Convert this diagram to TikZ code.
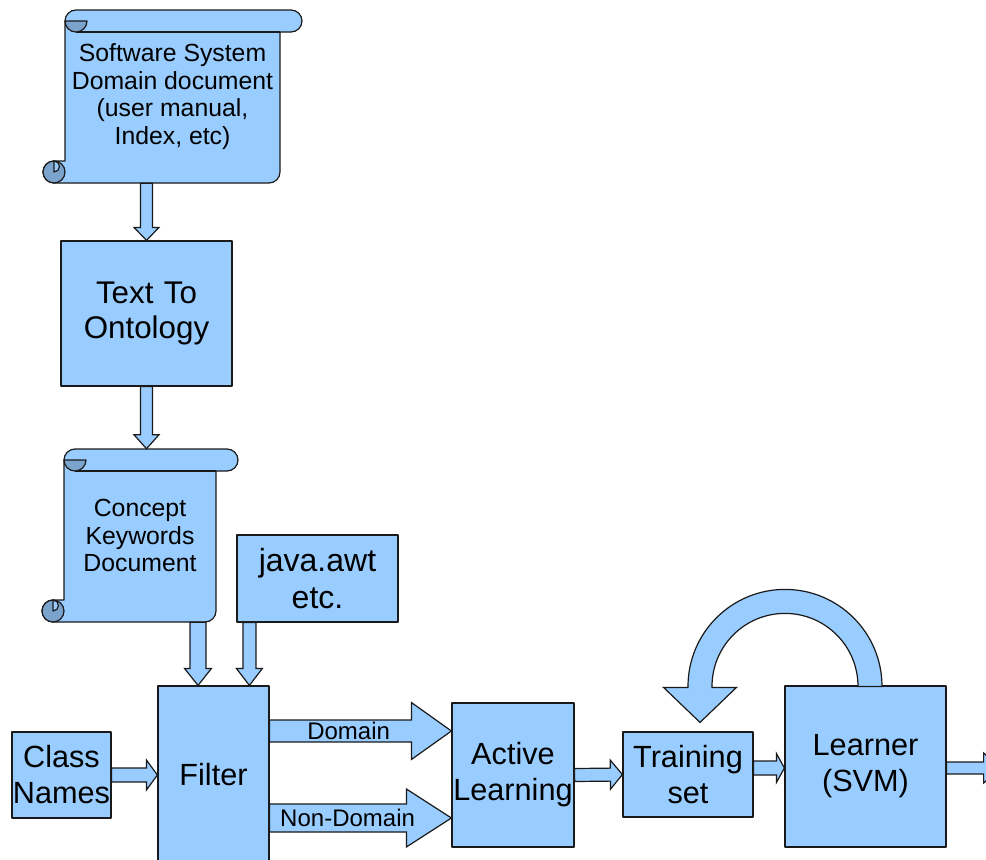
\documentclass[tikz,border=0pt]{standalone}
\usepackage{fontspec}
\setmainfont{Liberation Sans}
\usetikzlibrary{calc}
\definecolor{boxblue}{HTML}{99CCFF}
\definecolor{curlblue}{HTML}{7BA3CC}
\definecolor{edge}{HTML}{1A1A1A}

% scroll outline: left, top, right, bottom, roll thickness (px)
\newcommand{\scrollshape}[5]{%
 \pgfmathsetmacro\scL{#1}\pgfmathsetmacro\scT{#2}\pgfmathsetmacro\scR{#3}%
 \pgfmathsetmacro\scB{#4}\pgfmathsetmacro\scC{#5}\pgfmathsetmacro\scH{#5/2}%
 \draw[outline, fill=boxblue] ({\scL+\scC},{\scB-\scC}) -- ({\scL+\scC},{\scT+\scH})
   arc[start angle=180,end angle=270,radius=\scH] -- ({\scR-\scH},\scT)
   arc[start angle=270,end angle=450,radius=\scH] -- ({\scR-\scC},{\scT+\scC})
   -- ({\scR-\scC},{\scB-\scH}) arc[start angle=0,end angle=90,radius=\scH]
   -- ({\scL+\scH},\scB) arc[start angle=90,end angle=270,radius=\scH] -- cycle;
 \draw[outline] ({\scL+\scC+\scH},{\scT+\scC}) -- ({\scR-\scC},{\scT+\scC});
 \draw[outline, fill=curlblue] ({\scL+\scC},{\scT+\scH}) arc[start angle=180,end angle=0,radius=\scH] -- cycle;
 \draw[outline, fill=curlblue] ({\scL+\scH},{\scB-\scH}) circle[radius=\scH];
 \draw[outline, fill=boxblue] ({\scL+\scH},{\scB-\scC}) arc[start angle=270,end angle=450,radius={\scH/2}] -- cycle;
}

% block arrow: from, to, shaft half width, head half width, head length (px)
\newcommand{\blockarrow}[5]{%
  \path let \p1=(#1), \p2=(#2) in \pgfextra{%
    \pgfmathsetmacro\baang{atan2(\y2-\y1,\x2-\x1)}%
    \pgfmathsetmacro\balen{veclen(\x2-\x1,\y2-\y1)}%
    \global\let\baAng\baang \global\let\baLen\balen};
  \begin{scope}[shift={(#1)}, rotate=\baAng]
    \draw[barrow] (0pt,{-0.75pt*#3}) -- ({\baLen*1pt-0.75pt*#5},{-0.75pt*#3})
      -- ({\baLen*1pt-0.75pt*#5},{-0.75pt*#4}) -- ({\baLen*1pt},0pt)
      -- ({\baLen*1pt-0.75pt*#5},{0.75pt*#4}) -- ({\baLen*1pt-0.75pt*#5},{0.75pt*#3})
      -- (0pt,{0.75pt*#3}) -- cycle;
  \end{scope}}

\begin{document}
\begin{tikzpicture}[x=0.75pt,y=-0.75pt,
  outline/.style={draw=edge, line width=0.9pt, line join=round},
  box/.style={outline, fill=boxblue, rectangle, inner sep=0pt, align=center, text=black,
    font=\fontsize{23}{27}\selectfont},
  barrow/.style={draw=edge, fill=boxblue, line width=0.9pt, line join=miter},
  doctext/.style={inner sep=0pt, align=center, text=black, font=\fontsize{18.6}{20.7}\selectfont},
  lbl/.style={inner sep=0pt, text=black, font=\fontsize{18}{20}\selectfont},
]
\useasboundingbox (0,0) rectangle (986,860);
\clip (0,0) rectangle (986,860);

% scroll documents
\scrollshape{43}{10}{302}{183}{22}
\node[doctext, minimum width=194.25pt, minimum height=129.75pt] (doc1) at (172.5,96.5)
  {Software System\\Domain document\\(user manual,\\Index, etc)};
\scrollshape{42}{449}{238}{622}{22}
\node[doctext, minimum width=147pt, minimum height=129.75pt] (doc2) at (140,535.5)
  {Concept\\Keywords\\Document};

% boxes
\node[box, minimum width=128.25pt, text width=128.25pt, minimum height=108.75pt,
  font=\fontsize{23.5}{26.3}\selectfont] (tto) at (146.5,313.5) {Text To\\Ontology};
\node[box, minimum width=120.75pt, text width=120.75pt, minimum height=65.25pt,
  font=\fontsize{24}{27.75}\selectfont] (java) at (317.5,578.5) {java.awt\\etc.};
\node[box, minimum width=74.25pt, text width=74.25pt, minimum height=64.5pt] (class) at (61.5,775) {Class\\Names};
\node[box, minimum width=83.25pt, text width=83.25pt, minimum height=133.5pt] (filter) at (213.5,775) {Filter};
\node[box, minimum width=91.5pt, text width=91.5pt, minimum height=108pt] (al) at (513,775) {Active\\Learning};
\node[box, minimum width=97.5pt, text width=97.5pt, minimum height=63.75pt] (ts) at (688,774.5) {Training\\set};
\node[box, minimum width=120.75pt, text width=120.75pt, minimum height=120.75pt] (learner) at (865.5,766.5) {Learner\\(SVM)};

% connectors
\blockarrow{doc1.south -| tto.north}{tto.north}{6}{12.5}{13}
\blockarrow{tto.south}{tto.south |- doc2.north}{6}{12.5}{14}
\coordinate (c1) at ($(doc2.south)+(58,0)$);
\blockarrow{c1}{c1 |- filter.north}{8}{13.5}{17}
\coordinate (c2) at ($(java.south west)+(13,0)$);
\blockarrow{c2}{c2 |- filter.north}{6.5}{13}{17}
\blockarrow{class.east}{filter.west}{7}{15}{11}
\coordinate (d1) at ($(filter.east)+(0,-44)$);
\blockarrow{d1}{d1 -| al.west}{11}{28.5}{40}
\coordinate (d2) at ($(filter.east)+(0,43)$);
\blockarrow{d2}{d2 -| al.west}{14}{29}{45}
\blockarrow{al.east}{ts.west}{6.5}{14.5}{12}
\coordinate (t1) at ($(ts.east)+(0,-6.5)$);
\blockarrow{t1}{t1 -| learner.west}{7}{14.5}{8}
\coordinate (o0) at ($(learner.east)+(0,1.5)$);
\coordinate (o1) at ($(o0)+(54,0)$);
\blockarrow{o0}{o1}{6}{15}{17}

% feedback loop
\coordinate (lc) at ($(learner.north)+(-80.5,1)$);
\draw[barrow] ($(lc)+(97,0)$) arc[start angle=0,end angle=-180,radius=97]
  -- ++(0,1) -- ++(-24.5,0) -- ($(lc)+(-85,36)$) -- ($(lc)+(-48.5,1)$)
  -- ($(lc)+(-73,1)$) -- ($(lc)+(-73,0)$) arc[start angle=180,end angle=360,radius=73] -- cycle;

% arrow labels
\node[lbl] (dlab) at ($(d1)+(79,0)$) {Domain};
\node[lbl] (ndlab) at ($(d2)+(78,0)$) {Non-Domain};
\end{tikzpicture}
\end{document}
